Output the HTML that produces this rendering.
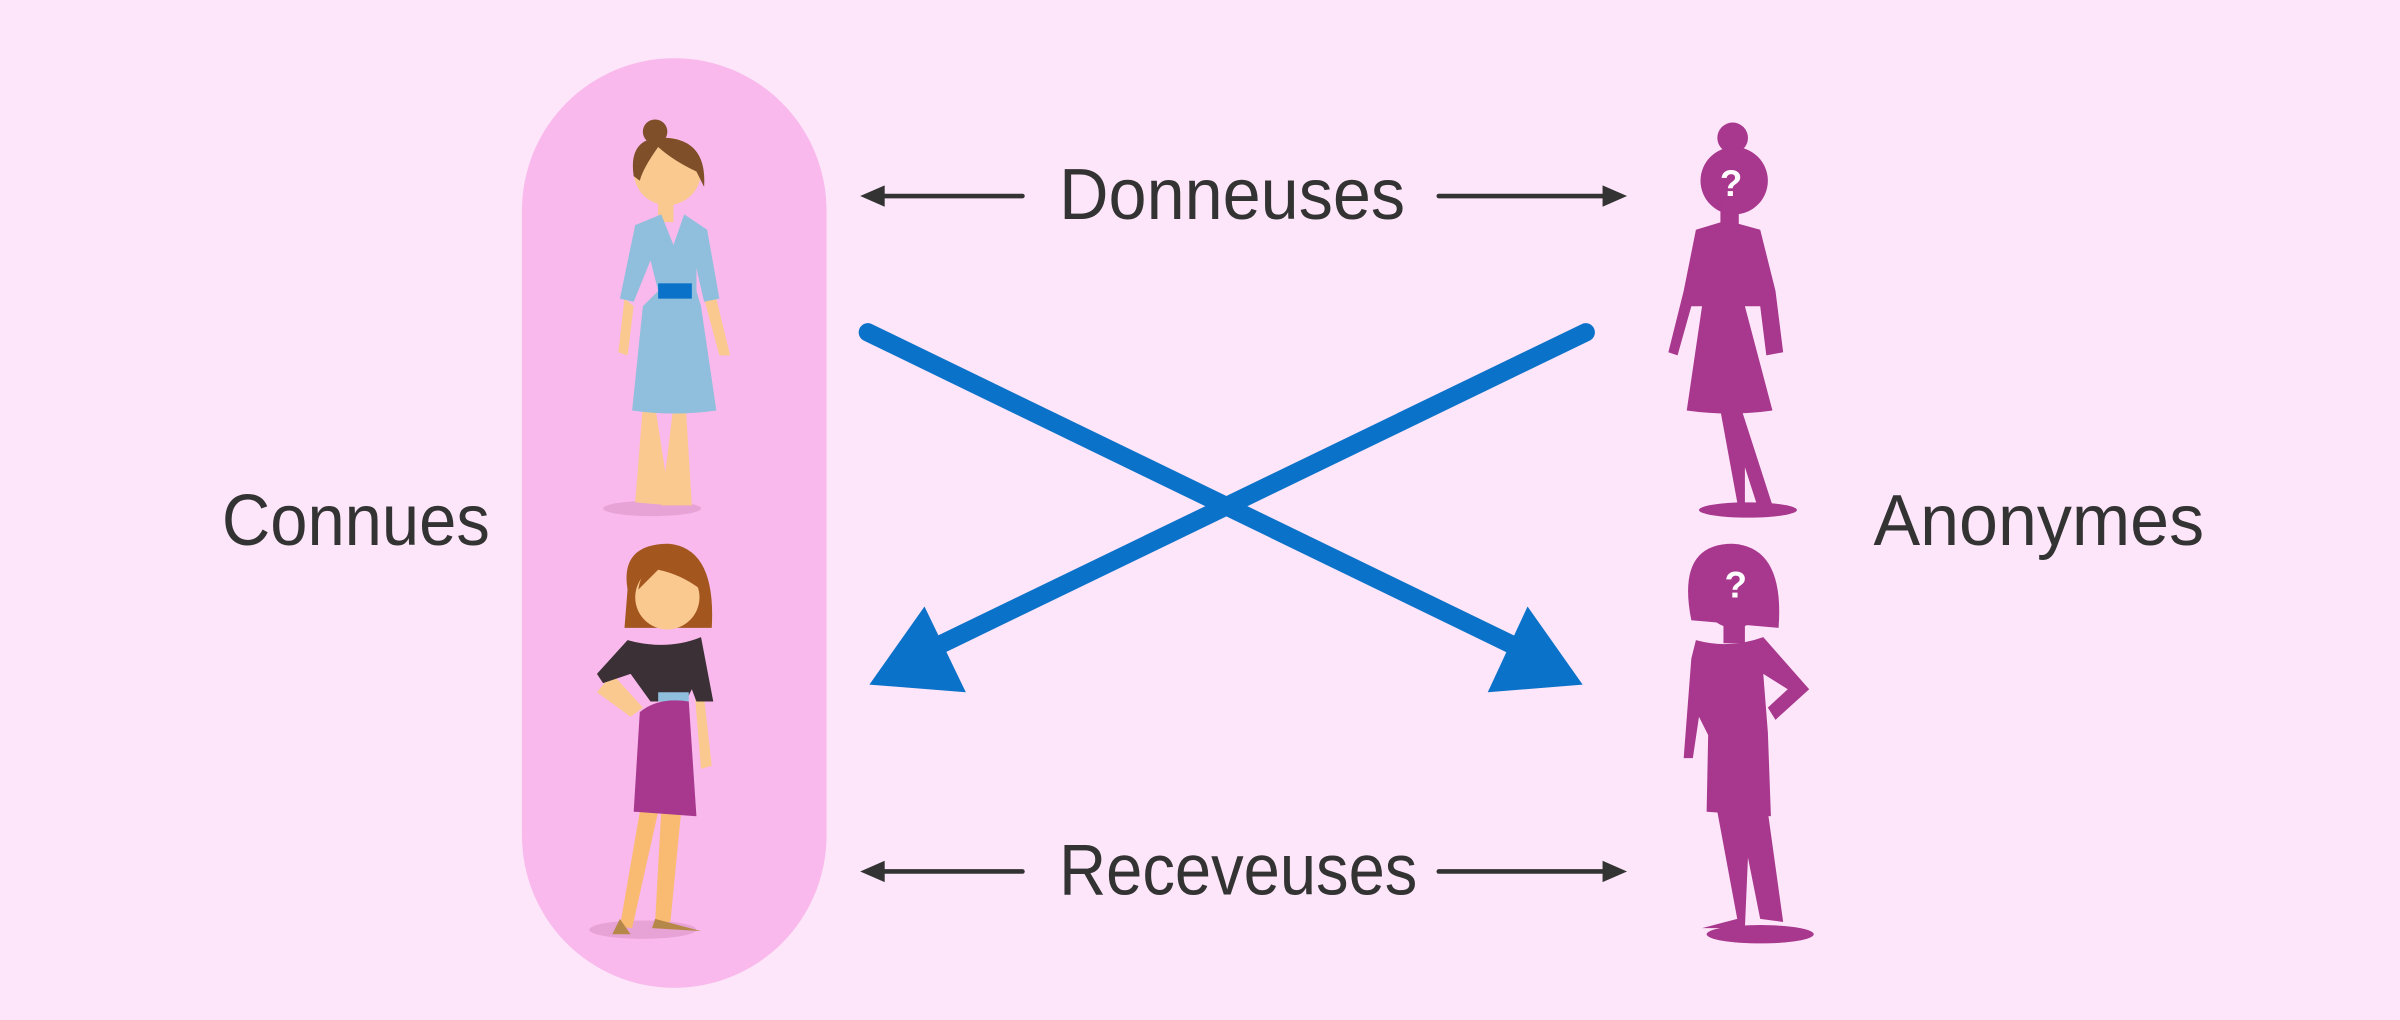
<!DOCTYPE html>
<html><head><meta charset="utf-8"><style>
html,body{margin:0;padding:0;background:#fde6f9;}
svg{display:block}
text{font-family:"Liberation Sans","DejaVu Sans",sans-serif;fill:#333;}
</style></head><body>
<svg width="2400" height="1020" viewBox="0 0 1568 666" preserveAspectRatio="none" xmlns="http://www.w3.org/2000/svg">
<rect width="1568" height="666" fill="#fde6f9"/>
<rect x="341" y="38" width="199" height="607" rx="99.5" fill="#f9b9ec"/>
<!-- labels -->
<text x="145" y="356" font-size="47" textLength="175" lengthAdjust="spacingAndGlyphs">Connues</text>
<text x="1224" y="356" font-size="47" textLength="216" lengthAdjust="spacingAndGlyphs">Anonymes</text>
<text x="692" y="143" font-size="47" textLength="226" lengthAdjust="spacingAndGlyphs">Donneuses</text>
<text x="692" y="584" font-size="47" textLength="234" lengthAdjust="spacingAndGlyphs">Receveuses</text>
<!-- small arrows -->
<g stroke="#333" stroke-width="3" stroke-linecap="round" fill="#333">
<line x1="668" y1="128" x2="572" y2="128"/><line x1="940" y1="128" x2="1052" y2="128"/>
<line x1="668" y1="569" x2="572" y2="569"/><line x1="940" y1="569" x2="1052" y2="569"/>
</g>
<g fill="#333">
<polygon points="562,128 578,121 578,135"/><polygon points="1063,128 1047,121 1047,135"/>
<polygon points="562,569 578,562 578,576"/><polygon points="1063,569 1047,562 1047,576"/>
</g>
<!-- blue arrows -->
<g stroke="#0a72c9" stroke-width="12" stroke-linecap="round">
<line x1="567" y1="217" x2="990" y2="422"/>
<line x1="1036" y1="217" x2="612" y2="422"/>
</g>
<g fill="#0a72c9">
<polygon points="1034,447 972,452 998,396"/>
<polygon points="568,447 631,452 604,396"/>
</g>
<!-- top woman -->
<ellipse cx="426" cy="332" rx="32" ry="5" fill="#e7a3d6"/>
<path d="M420 265 L415 328 L438 330 L428 265 Z M440 265 L432 330 L452 330 L448 265Z" fill="#f9c98f"/>
<path d="M408 195 L404 230 L410 232 L414 200Z M460 195 L470 232 L477 232 L468 195Z" fill="#f9c98f"/>
<circle cx="436" cy="112" r="22" fill="#f9c98f"/>
<path d="M414 115 Q410 88 436 90 Q462 92 460 122 L455 112 Q440 105 430 96 Q420 110 418 118Z" fill="#7f4f2a"/>
<circle cx="428" cy="86" r="8" fill="#7f4f2a"/>
<rect x="430" y="130" width="10" height="15" fill="#f9c98f"/>
<path d="M415 147 L432 140 L440 160 L447 140 L462 150 L470 195 L460 197 L455 175 L455 190 L458 200 L468 268 Q440 272 413 268 L420 200 L430 190 L425 170 L414 197 L405 195Z" fill="#8fbfdc"/>
<rect x="430" y="185" width="22" height="10" fill="#0a72c9"/>
<!-- bottom woman -->
<ellipse cx="420" cy="607" rx="35" ry="6" fill="#e7a3d6"/>
<path d="M418 530 L405 605 L413 606 L430 530Z M432 530 L428 602 L438 602 L445 530Z" fill="#f9bb72"/>
<path d="M405 600 L412 610 L400 610Z M428 600 L458 608 L426 606Z" fill="#b5884a"/>
<path d="M456 420 L465 500 L458 502 L452 430Z M400 440 L390 452 L412 468 L420 462Z" fill="#f9c98f"/>
<path d="M410 385 Q405 355 437 355 Q468 358 465 410 L408 410Z" fill="#a4561f"/>
<circle cx="436" cy="390" r="21" fill="#f9c98f"/>
<path d="M417 385 Q420 365 440 366 Q458 370 458 385 Q445 375 430 372Z" fill="#a4561f"/>
<path d="M410 418 Q436 425 458 416 L466 458 L455 458 L452 450 L448 458 L425 458 L412 440 L394 446 L390 440Z" fill="#3a3036"/>
<rect x="430" y="452" width="20" height="6" fill="#8fbfdc"/>
<path d="M418 465 Q430 455 450 458 L455 533 L414 530Z" fill="#a8378e"/>
<!-- top silhouette -->
<g fill="#a8378e">
<ellipse cx="1142" cy="333" rx="32" ry="5"/>
<circle cx="1133" cy="118" r="22"/>
<circle cx="1132" cy="90" r="10"/>
<rect x="1124" y="130" width="12" height="18"/>
<path d="M1108 150 L1128 144 L1150 150 L1160 190 L1165 230 L1154 232 L1150 200 L1140 200 L1158 268 Q1130 272 1102 268 L1112 200 L1105 200 L1096 232 L1090 230 L1100 190Z"/>
<path d="M1124 268 L1135 328 L1112 333 L1140 333 L1140 305 L1148 330 L1158 330 L1138 268Z"/>
</g>
<text x="1131" y="128" font-size="24" text-anchor="middle" style="fill:#fff;font-weight:bold">?</text>
<!-- bottom silhouette -->
<g fill="#a8378e">
<ellipse cx="1150" cy="610" rx="35" ry="6"/>
<path d="M1105 405 Q1095 355 1132 355 Q1166 357 1162 410 Z"/>
<circle cx="1133" cy="390" r="20"/>
<rect x="1126" y="405" width="14" height="15"/>
<path d="M1108 418 Q1130 424 1152 416 L1182 450 L1160 470 L1155 462 L1168 450 L1152 440 L1155 478 L1157 533 L1115 530 L1116 480 L1110 468 L1106 495 L1100 495 L1105 430Z"/>
<path d="M1122 530 L1135 600 L1112 606 L1140 606 L1142 560 L1150 600 L1165 602 L1155 530Z"/>
</g>
<text x="1134" y="390" font-size="24" text-anchor="middle" style="fill:#fff;font-weight:bold">?</text>
</svg>
</body></html>
